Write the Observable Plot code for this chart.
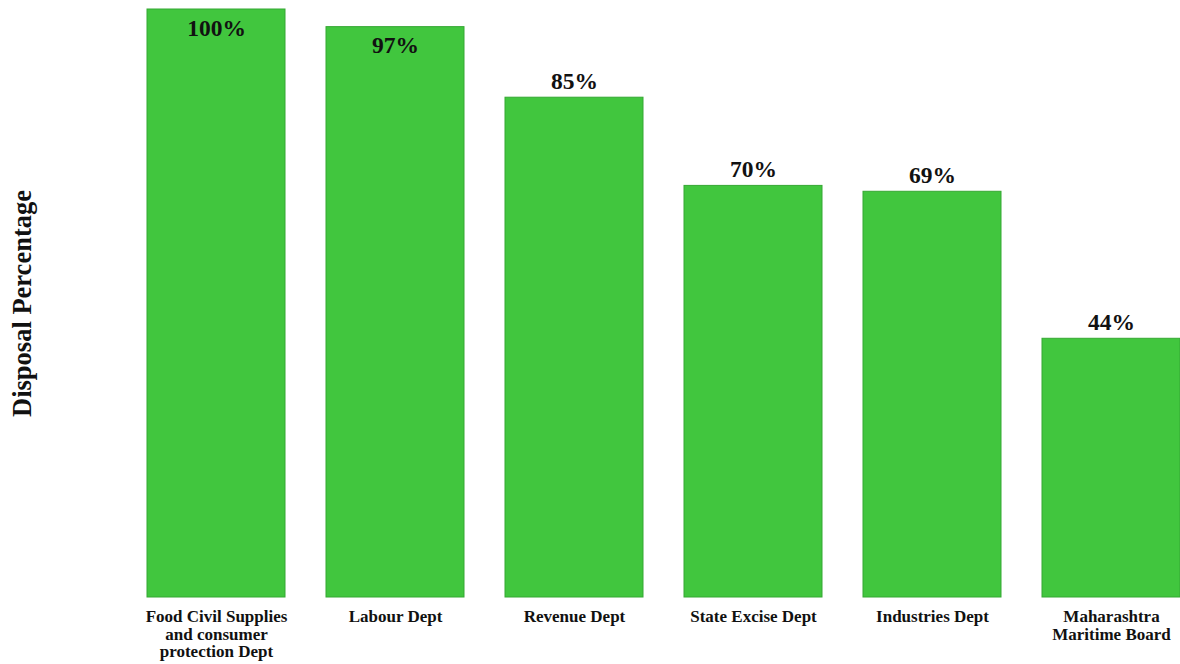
<!DOCTYPE html>
<html>
<head>
<meta charset="utf-8">
<script src="https://cdn.jsdelivr.net/npm/d3@7"></script>
<script src="https://cdn.jsdelivr.net/npm/@observablehq/plot@0.6"></script>
<style>
  html, body { margin: 0; padding: 0; background: #fff; }
  #chart svg { display: block; }
</style>
</head>
<body>
<div id="chart"></div>
<script>
const departments = [
  "Food Civil Supplies\nand consumer\nprotection Dept",
  "Labour Dept",
  "Revenue Dept",
  "State Excise Dept",
  "Industries Dept",
  "Maharashtra\nMaritime Board"
];
const disposal = [100, 97, 85, 70, 69, 44];
const yAxisLabel = "Disposal Percentage";

const data = departments.map((d, i) => ({dept: d, value: disposal[i]}));
const font = "'Liberation Serif', 'Times New Roman', serif";

const chart = Plot.plot({
  width: 1180,
  height: 664,
  marginLeft: 146,
  marginRight: 0,
  marginTop: 9,
  marginBottom: 67,
  style: {fontFamily: font, background: "#fff"},
  x: {domain: departments, paddingInner: 0.23, paddingOuter: 0, label: null},
  y: {domain: [0, 100], axis: null},
  marks: [
    Plot.barY(data, {x: "dept", y: "value", fill: "#41c63e", stroke: "#35a832", strokeWidth: 1}),
    Plot.text(data.filter(d => d.value <= 90), {
      x: "dept", y: "value", text: d => d.value + "%", dy: -9,
      fontSize: 23.5, fontWeight: "bold", fill: "#111", lineAnchor: "bottom"
    }),
    Plot.text(data.filter(d => d.value > 90), {
      x: "dept", y: "value", text: d => d.value + "%", dy: 9.5,
      fontSize: 23.5, fontWeight: "bold", fill: "#111", lineAnchor: "top"
    }),
    Plot.axisX({
      tickSize: 0, tickPadding: 12.5, fontSize: 17, fontWeight: "bold",
      lineHeight: 1.02, label: null, fill: "#111"
    }),
    Plot.text([yAxisLabel], {
      frameAnchor: "left", rotate: -90, dx: -124, text: d => d,
      textAnchor: "middle",
      fontSize: 26.5, fontWeight: "bold", fill: "#111"
    })
  ]
});
document.getElementById("chart").appendChild(chart);
</script>
</body>
</html>
